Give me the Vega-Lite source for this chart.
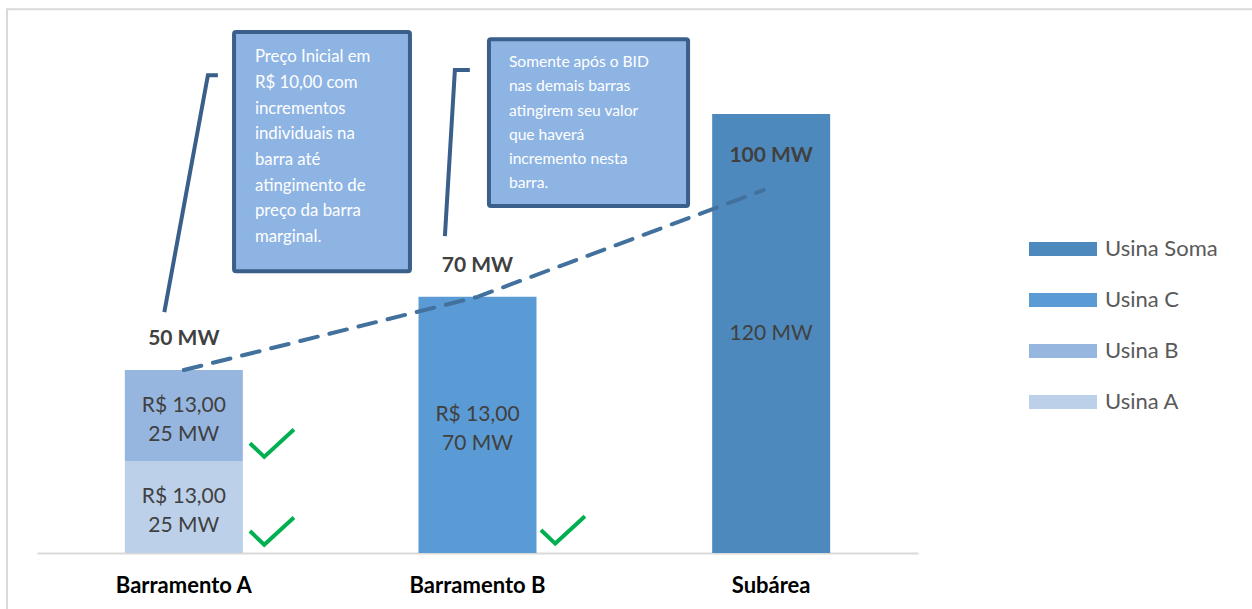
{
  "$schema": "https://vega.github.io/schema/vega-lite/v6.json",
  "width": 881,
  "height": 543,
  "autosize": {"type": "none"},
  "padding": {"left": 37, "top": 10, "right": 334, "bottom": 56},
  "config": {"view": {"stroke": null}, "font": "Lato"},
  "datasets": {
    "bars": [
      {"cat": "Barramento A", "serie": "Usina A", "mw": 25, "label": "R$ 13,00\n25 MW", "ord": 1},
      {"cat": "Barramento A", "serie": "Usina B", "mw": 25, "label": "R$ 13,00\n25 MW", "ord": 2},
      {"cat": "Barramento B", "serie": "Usina C", "mw": 70, "label": "R$ 13,00\n70 MW", "ord": 3},
      {"cat": "Subárea", "serie": "Usina Soma", "mw": 120, "label": "120 MW", "ord": 4}
    ],
    "totals": [
      {"cat": "Barramento A", "total": 50, "label": "50 MW"},
      {"cat": "Barramento B", "total": 70, "label": "70 MW"},
      {"cat": "Subárea", "total": 100, "label": "100 MW"}
    ],
    "checks": [
      {"p": 0.8, "v": 30},
      {"p": 0.8, "v": 6},
      {"p": 1.791, "v": 6.3}
    ],
    "trend": [
      {"p": 0.5, "mw": 50},
      {"p": 1.5, "mw": 70},
      {"p": 2.474, "mw": 99.2}
    ],
    "boxes": [
      {"x1": 0.671, "x2": 1.27, "y1": 142.4, "y2": 77.0, "tx": 0.742, "ty": 135.5, "fs": 16.8, "text": "Preço Inicial em\nR$ 10,00 com\nincrementos\nindividuais na\nbarra até\natingimento de\npreço da barra\nmarginal."},
      {"x1": 1.539, "x2": 2.217, "y1": 140.4, "y2": 94.8, "tx": 1.607, "ty": 134.2, "fs": 15.6, "text": "Somente após o BID\nnas demais barras\natingirem seu valor\nque haverá\nincremento nesta\nbarra."}
    ],
    "leaders": [
      {"id": 1, "o": 1, "p": 0.4336, "mw": 65.8},
      {"id": 1, "o": 2, "p": 0.582, "mw": 130.6},
      {"id": 1, "o": 3, "p": 0.616, "mw": 130.6},
      {"id": 2, "o": 1, "p": 1.389, "mw": 86.6},
      {"id": 2, "o": 2, "p": 1.423, "mw": 132.0},
      {"id": 2, "o": 3, "p": 1.474, "mw": 132.0}
    ],
    "frame": [{"x1": -0.102, "x2": 4.4, "y1": 148.6, "y2": -20}]
  },
  "resolve": {"scale": {"x": "independent"}},
  "layer": [
    {
      "layer": [
        {
          "data": {"name": "bars"},
          "mark": {"type": "bar", "width": 118},
          "encoding": {
            "x": {
              "field": "cat", "type": "nominal",
              "scale": {"domain": ["Barramento A", "Barramento B", "Subárea"], "paddingInner": 0.598, "paddingOuter": 0.299},
              "axis": {"title": null, "labelAngle": 0, "labelFontSize": 22, "labelFontWeight": "bold", "labelColor": "#000000", "labelFont": "Lato", "domainColor": "#D9D9D9", "domainWidth": 2, "ticks": false, "labelPadding": 22}
            },
            "y": {"field": "mw", "type": "quantitative", "stack": "zero", "scale": {"domain": [0, 148.4], "nice": false, "zero": true}, "axis": null},
            "color": {
              "field": "serie", "type": "nominal",
              "scale": {"domain": ["Usina Soma", "Usina C", "Usina B", "Usina A"], "range": ["#4E89BD", "#5B9BD5", "#97B6DF", "#BCD0EA"]},
              "legend": {
                "title": null, "orient": "none", "legendX": 1009, "legendY": 222,
                "symbolType": "M-2,-0.41H2V0.41H-2Z", "symbolSize": 1156, "symbolStrokeWidth": 0,
                "labelFontSize": 22, "labelColor": "#595959", "labelFont": "Lato", "labelOffset": 25, "rowPadding": 23
              }
            },
            "order": {"field": "ord", "type": "quantitative"}
          }
        },
        {
          "data": {"name": "bars"},
          "transform": [
            {"stack": "mw", "groupby": ["cat"], "sort": [{"field": "ord"}], "as": ["lo", "hi"]},
            {"calculate": "(datum.lo + datum.hi) / 2", "as": "mid"},
            {"filter": "datum.ord < 4"}
          ],
          "mark": {"type": "text", "fontSize": 21, "color": "#404040", "lineBreak": "\n", "lineHeight": 29, "baseline": "middle", "dy": -10},
          "encoding": {
            "x": {"field": "cat", "type": "nominal"},
            "y": {"field": "mid", "type": "quantitative"},
            "text": {"field": "label"}
          }
        },
        {
          "data": {"name": "bars"},
          "transform": [
            {"stack": "mw", "groupby": ["cat"], "sort": [{"field": "ord"}], "as": ["lo", "hi"]},
            {"calculate": "(datum.lo + datum.hi) / 2", "as": "mid"},
            {"filter": "datum.ord == 4"}
          ],
          "mark": {"type": "text", "fontSize": 21, "color": "#404040", "baseline": "middle", "dy": 1},
          "encoding": {
            "x": {"field": "cat", "type": "nominal"},
            "y": {"field": "mid", "type": "quantitative"},
            "text": {"field": "label"}
          }
        },
        {
          "data": {"name": "totals"},
          "mark": {"type": "text", "fontSize": 21, "fontWeight": "bold", "color": "#404040", "dy": -31, "baseline": "middle"},
          "encoding": {
            "x": {"field": "cat", "type": "nominal"},
            "y": {"field": "total", "type": "quantitative"},
            "text": {"field": "label"}
          }
        }
      ]
    },
    {
      "layer": [
        {
          "data": {"name": "frame"},
          "mark": {"type": "rect", "fill": null, "stroke": "#D9D9D9", "strokeWidth": 2},
          "encoding": {
            "x": {"field": "x1", "type": "quantitative", "scale": {"domain": [0, 3], "nice": false}, "axis": null},
            "x2": {"field": "x2"},
            "y": {"field": "y1", "type": "quantitative"},
            "y2": {"field": "y2"}
          }
        },
        {
          "data": {"name": "trend"},
          "mark": {"type": "line", "stroke": "#41719C", "strokeWidth": 4, "strokeDash": [18, 12], "strokeCap": "round"},
          "encoding": {
            "x": {"field": "p", "type": "quantitative"},
            "y": {"field": "mw", "type": "quantitative"}
          }
        },
        {
          "data": {"name": "leaders"},
          "mark": {"type": "line", "stroke": "#3A5F8B", "strokeWidth": 4},
          "encoding": {
            "x": {"field": "p", "type": "quantitative"},
            "y": {"field": "mw", "type": "quantitative"},
            "detail": {"field": "id"},
            "order": {"field": "o"}
          }
        },
        {
          "data": {"name": "boxes"},
          "mark": {"type": "rect", "fill": "#8EB4E3", "stroke": "#3A5F8B", "strokeWidth": 4, "cornerRadius": 2},
          "encoding": {
            "x": {"field": "x1", "type": "quantitative"},
            "x2": {"field": "x2"},
            "y": {"field": "y1", "type": "quantitative"},
            "y2": {"field": "y2"}
          }
        },
        {
          "data": {"name": "boxes"},
          "transform": [{"filter": "datum.fs > 16"}],
          "mark": {"type": "text", "color": "#FFFFFF", "align": "left", "baseline": "middle", "lineBreak": "\n", "lineHeight": 25.7, "fontSize": 16.8},
          "encoding": {
            "x": {"field": "tx", "type": "quantitative"},
            "y": {"field": "ty", "type": "quantitative"},
            "text": {"field": "text"}
          }
        },
        {
          "data": {"name": "boxes"},
          "transform": [{"filter": "datum.fs < 16"}],
          "mark": {"type": "text", "color": "#FFFFFF", "align": "left", "baseline": "middle", "lineBreak": "\n", "lineHeight": 24.3, "fontSize": 15.6},
          "encoding": {
            "x": {"field": "tx", "type": "quantitative"},
            "y": {"field": "ty", "type": "quantitative"},
            "text": {"field": "text"}
          }
        },
        {
          "data": {"name": "checks"},
          "mark": {"type": "point", "shape": "M-1,0L-0.35,0.62L1,-0.62", "filled": false, "size": 1936, "stroke": "#00B050", "strokeWidth": 4, "opacity": 1},
          "encoding": {
            "x": {"field": "p", "type": "quantitative"},
            "y": {"field": "v", "type": "quantitative"}
          }
        }
      ]
    }
  ]
}
